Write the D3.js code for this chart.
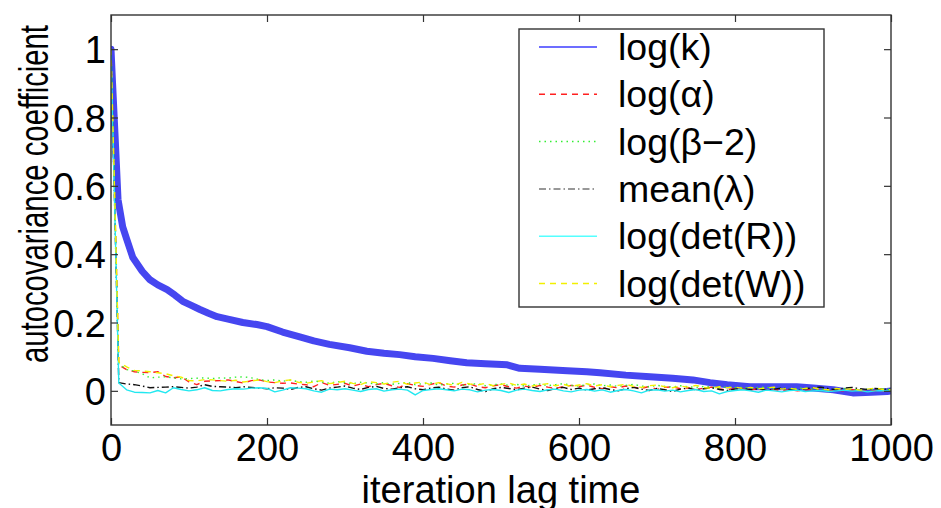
<!DOCTYPE html>
<html>
<head>
<meta charset="utf-8">
<script src="https://cdn.jsdelivr.net/npm/d3@7"></script>
<style>
  body { margin: 0; background: #fff; }
  svg { display: block; font-family: "Liberation Sans", Arial, sans-serif; }
</style>
</head>
<body>
<div id="chart"></div>
<script>
// blue curve, log(k): [lag, value]
const logK = [
  [0, 1.0], [2, 0.9], [5, 0.757], [9, 0.56], [15, 0.48], [20, 0.445], [28, 0.39],
  [40, 0.35], [50, 0.325], [60, 0.31], [72, 0.296], [82, 0.28], [92, 0.262],
  [103, 0.25], [114, 0.238], [125, 0.227], [136, 0.217], [150, 0.21], [169, 0.2],
  [187, 0.194], [200, 0.188], [220, 0.172], [242, 0.158], [260, 0.146], [280, 0.136],
  [306, 0.126], [328, 0.116], [350, 0.11], [370, 0.106], [390, 0.1], [413, 0.095],
  [435, 0.088], [456, 0.082], [480, 0.079], [508, 0.076], [524, 0.066], [550, 0.063],
  [585, 0.059], [610, 0.056], [627, 0.053], [660, 0.046], [691, 0.041], [720, 0.037],
  [746, 0.032], [768, 0.024], [790, 0.018], [819, 0.012], [850, 0.012], [879, 0.012],
  [900, 0.008], [926, 0.003], [951, -0.006], [975, -0.004], [995, -0.002], [1000, 0]
];

// the other series are sampled every 10 lags, 0..1000
const lagStep = 10;
const logAlpha = [1,
  0.076,0.062,0.056,0.054,0.053,0.056,0.042,0.038,0.041,0.026,
  0.018,0.028,0.029,0.030,0.032,0.027,0.023,0.030,0.032,0.026,
  0.024,0.022,0.023,0.020,0.018,0.012,0.024,0.016,0.019,0.022,
  0.014,0.020,0.012,0.018,0.022,0.015,0.010,0.021,0.016,0.013,
  0.019,0.024,0.014,0.011,0.017,0.020,0.012,0.009,0.015,0.018,
  0.012,0.008,0.014,0.010,0.016,0.011,0.007,0.013,0.016,0.012,
  0.017,0.010,0.006,0.012,0.009,0.014,0.011,0.007,0.013,0.004,
  0.010,0.012,0.006,0.009,0.003,0.008,0.011,0.006,0.002,0.007,
  0.005,0.003,0.006,0.002,0.004,0.001,0.003,0.000,0.002,0.004,
  0.001,-0.001,0.002,0.000,0.003,0.001,-0.002,0.001,0.000,0.000];
const logBeta = [1,
  0.080,0.062,0.058,0.050,0.038,0.040,0.041,0.038,0.035,0.036,
  0.037,0.038,0.036,0.038,0.037,0.040,0.041,0.038,0.033,0.030,
  0.032,0.028,0.031,0.027,0.025,0.029,0.026,0.022,0.027,0.024,
  0.021,0.025,0.023,0.020,0.024,0.019,0.022,0.025,0.018,0.021,
  0.023,0.017,0.020,0.022,0.016,0.019,0.021,0.015,0.018,0.020,
  0.016,0.019,0.014,0.017,0.020,0.015,0.018,0.021,0.016,0.014,
  0.018,0.020,0.015,0.017,0.013,0.016,0.019,0.014,0.012,0.016,
  0.013,0.011,0.015,0.012,0.010,0.013,0.011,0.008,0.012,0.009,
  0.010,0.007,0.009,0.011,0.006,0.008,0.005,0.007,0.009,0.004,
  0.006,0.003,0.005,0.007,0.004,0.002,0.005,0.003,0.006,0.004];
const meanLambda = [1,
  0.024,0.020,0.018,0.014,0.009,0.010,0.011,0.012,0.010,0.008,
  0.011,0.018,0.013,0.012,0.011,0.009,0.012,0.010,0.008,0.006,
  0.009,0.008,0.004,0.010,0.012,0.006,0.002,0.008,0.011,0.014,
  0.008,0.004,0.010,0.013,0.007,0.005,0.009,0.012,0.006,0.003,
  0.008,0.011,0.005,0.002,0.009,0.012,0.004,-0.002,0.006,0.010,
  0.007,0.003,0.008,0.011,0.005,0.001,0.007,0.010,0.004,0.008,
  0.002,0.006,0.009,0.004,0.000,0.006,0.010,0.005,0.001,0.007,
  0.003,-0.002,0.005,0.008,0.003,0.006,0.009,0.004,0.001,0.005,
  0.007,0.003,0.006,0.002,0.005,0.008,0.004,0.001,0.006,0.009,
  0.011,0.006,0.003,0.008,0.010,0.006,0.004,0.007,0.005,0.004];
const logDetR = [1,
  0.023,0.003,-0.004,-0.005,-0.006,0.001,-0.006,0.009,0.004,0.000,
  0.003,0.009,0.001,0.000,0.004,0.006,0.005,0.008,0.009,0.007,
  -0.003,0.002,0.009,0.008,0.006,0.000,-0.004,0.005,0.003,0.006,
  0.002,-0.002,0.004,0.006,-0.001,0.003,0.005,0.002,-0.012,0.001,
  0.004,0.006,0.003,0.000,0.005,0.003,-0.003,0.002,0.004,0.001,
  -0.005,0.002,0.005,0.001,-0.002,0.003,0.005,0.000,-0.003,0.002,
  0.004,-0.001,0.003,-0.004,0.001,0.004,0.000,-0.006,0.002,0.003,
  -0.001,0.002,-0.003,0.001,0.004,-0.002,0.000,-0.009,-0.002,0.001,
  0.003,0.000,-0.004,0.002,0.000,-0.003,0.001,0.002,-0.002,0.000,
  0.001,-0.002,0.000,0.002,-0.001,0.001,-0.003,0.000,0.001,0.000];
const logDetW = [1,
  0.085,0.070,0.060,0.058,0.056,0.053,0.050,0.044,0.040,0.030,
  0.029,0.033,0.032,0.030,0.028,0.031,0.026,0.029,0.032,0.027,
  0.024,0.029,0.032,0.025,0.022,0.026,0.030,0.021,0.024,0.028,
  0.022,0.018,0.027,0.024,0.020,0.025,0.028,0.019,0.023,0.026,
  0.018,0.024,0.021,0.016,0.025,0.020,0.017,0.022,0.015,0.019,
  0.023,0.016,0.020,0.014,0.018,0.021,0.015,0.019,0.013,0.017,
  0.021,0.014,0.018,0.012,0.016,0.019,0.013,0.010,0.015,0.017,
  0.012,0.009,0.014,0.011,0.016,0.010,0.007,0.012,0.009,0.011,
  0.007,0.010,0.006,0.008,0.011,0.005,0.008,0.004,0.007,0.009,
  0.005,0.003,0.007,0.004,0.006,0.002,0.005,0.008,0.004,0.003];

const xTicks = [0, 200, 400, 600, 800, 1000];
const yTicks = [0, 0.2, 0.4, 0.6, 0.8, 1];

const series = [
  { name: "log(k)",      pts: logK,                                   color: "#4646f0", legColor: "#3c3cff", width: 7, dash: null },
  { name: "log(\u03b1)",      pts: logAlpha.map((v, i) => [i * lagStep, v]),   color: "#ff2020", width: 1.4, dash: "6,5" },
  { name: "log(\u03b2\u22122)",   pts: logBeta.map((v, i) => [i * lagStep, v]),    color: "#33ee33", width: 1.4, dash: "1.5,4" },
  { name: "mean(\u03bb)",     pts: meanLambda.map((v, i) => [i * lagStep, v]), color: "#111111", legColor: "#777", width: 1.4, dash: "7,3,1.5,3" },
  { name: "log(det(R))", pts: logDetR.map((v, i) => [i * lagStep, v]),    color: "#22e8f0", legColor: "#55ffff", width: 1.4, dash: null },
  { name: "log(det(W))", pts: logDetW.map((v, i) => [i * lagStep, v]),    color: "#f2f000", width: 1.4, dash: "6,5" }
];

const W = 941, H = 508;
const m = { left: 111, right: 891, top: 15, bottom: 425 };

const svg = d3.select("#chart").append("svg")
  .attr("width", W).attr("height", H);

const x = d3.scaleLinear().domain([0, 1000]).range([m.left, m.right]);
const y = d3.scaleLinear().domain([-0.1, 1.1]).range([m.bottom, m.top]);

svg.append("defs").append("clipPath").attr("id", "clip")
  .append("rect").attr("x", m.left).attr("y", m.top)
  .attr("width", m.right - m.left).attr("height", m.bottom - m.top);

const line = d3.line().x(d => x(d[0])).y(d => y(d[1]));

svg.append("g").attr("clip-path", "url(#clip)")
  .selectAll("path")
  .data(series)
  .join("path")
  .attr("fill", "none")
  .attr("stroke", d => d.color)
  .attr("stroke-width", d => d.width)
  .attr("stroke-dasharray", d => d.dash)
  .attr("stroke-linejoin", "round")
  .attr("stroke-linecap", d => d.dash ? "butt" : "round")
  .attr("d", d => line(d.pts));

// axes: ticks point inward, on all four sides
const tickLen = 7;
const axisColor = "#333";
const fontSize = 38;

const xb = svg.append("g").attr("transform", `translate(0,${m.bottom})`)
  .call(d3.axisBottom(x).tickValues(xTicks).tickSizeInner(-tickLen).tickSizeOuter(0).tickFormat(d3.format("d")));
const xt = svg.append("g").attr("transform", `translate(0,${m.top})`)
  .call(d3.axisTop(x).tickValues(xTicks).tickSizeInner(-tickLen).tickSizeOuter(0).tickFormat(""));
const yl = svg.append("g").attr("transform", `translate(${m.left},0)`)
  .call(d3.axisLeft(y).tickValues(yTicks).tickSizeInner(-tickLen).tickSizeOuter(0).tickFormat(d => String(+d.toFixed(1))));
const yr = svg.append("g").attr("transform", `translate(${m.right},0)`)
  .call(d3.axisRight(y).tickValues(yTicks).tickSizeInner(-tickLen).tickSizeOuter(0).tickFormat(""));

[xb, xt, yl, yr].forEach(g => {
  g.select(".domain").remove();
  g.selectAll("line").attr("stroke", axisColor).attr("stroke-width", 1.2);
  g.selectAll("text").attr("font-size", fontSize).attr("fill", "#000")
    .attr("font-family", "'Liberation Sans', Arial, sans-serif");
});
xb.selectAll("text").attr("dy", null).attr("y", 36);
yl.selectAll("text").attr("x", -5).attr("dy", "0.36em");

svg.append("rect")
  .attr("x", m.left).attr("y", m.top)
  .attr("width", m.right - m.left).attr("height", m.bottom - m.top)
  .attr("fill", "none").attr("stroke", axisColor).attr("stroke-width", 1.4);

// axis titles
svg.append("text")
  .attr("x", (m.left + m.right) / 2).attr("y", 503)
  .attr("text-anchor", "middle")
  .attr("font-size", 38)
  .text("iteration lag time");

svg.append("text")
  .attr("transform", "translate(48,194) rotate(-90)")
  .attr("text-anchor", "middle")
  .attr("font-size", 40)
  .attr("textLength", 338)
  .attr("lengthAdjust", "spacingAndGlyphs")
  .text("autocovariance coefficient");

// legend
const legX = 519, legY = 29, legW = 305, legH = 278, rowH = 47.3;
const legend = svg.append("g");
legend.append("rect")
  .attr("x", legX).attr("y", legY).attr("width", legW).attr("height", legH)
  .attr("fill", "#fff").attr("stroke", axisColor).attr("stroke-width", 1.4);

const rows = legend.selectAll("g.row")
  .data(series)
  .join("g")
  .attr("class", "row")
  .attr("transform", (d, i) => `translate(0,${legY + 18 + i * rowH})`);

rows.append("line")
  .attr("x1", 539).attr("x2", 597).attr("y1", 0).attr("y2", 0)
  .attr("stroke", d => d.legColor || d.color)
  .attr("stroke-width", 1.5)
  .attr("stroke-dasharray", d => d.dash);

rows.append("text")
  .attr("x", 618).attr("y", 0).attr("dy", "0.35em")
  .attr("font-size", 37.5)
  .text(d => d.name);
</script>
</body>
</html>
